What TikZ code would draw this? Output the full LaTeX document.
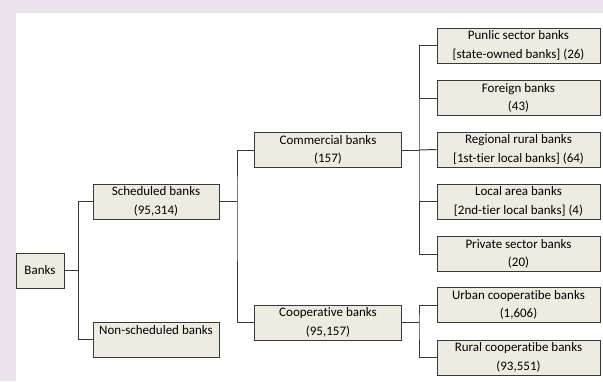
\documentclass[tikz,border=0pt]{standalone}
\usepackage{fontspec}
\setmainfont[RawFeature={-liga}]{Carlito}
\definecolor{bgpink}{HTML}{EDE3EC}
\definecolor{boxfill}{HTML}{EEECE1}
\definecolor{edge}{HTML}{383838}
\begin{document}
\begin{tikzpicture}[x=1pt,y=-1pt,
  bank/.style={draw=edge, line width=1pt, fill=boxfill, inner sep=0pt,
    minimum height=35pt, align=center,
    font=\fontsize{13}{18.5}\selectfont},
  lvlA/.style={bank, minimum width=48pt},
  lvlB/.style={bank, minimum width=126pt},
  lvlC/.style={bank, minimum width=146.5pt},
  lvlD/.style={bank, minimum width=163pt},
  link/.style={draw=edge, line width=1pt}]
\useasboundingbox (0,0) rectangle (603,381);
\fill[bgpink] (0,0) rectangle (603,381);
\fill[white] (16,13) rectangle (603,381);

\node[lvlA] (banks) at (40,270.5) {Banks};
\node[lvlB] (sched) at (156,201.5) {Scheduled banks\\(95,314)};
\node[lvlB] (nonsched) at (156,339.5) {Non-scheduled banks\\\mbox{}};
\node[lvlC] (comm) at (328,150) {Commercial banks\\(157)};
\node[lvlC] (coop) at (328,322.5) {Cooperative banks\\(95,157)};
\node[lvlD] (pub) at (518.5,45.5) {Punlic sector banks\\{}[state-owned banks] (26)};
\node[lvlD] (for) at (518.5,98) {Foreign banks\\(43)};
\node[lvlD] (rrb) at (518.5,149.5) {Regional rural banks\\{}[1st-tier local banks] (64)};
\node[lvlD] (lab) at (518.5,201.5) {Local area banks\\{}[2nd-tier local banks] (4)};
\node[lvlD] (priv) at (518.5,254) {Private sector banks\\(20)};
\node[lvlD] (urban) at (518.5,305) {Urban cooperatibe banks\\(1,606)};
\node[lvlD] (rural) at (518.5,357.5) {Rural cooperatibe banks\\(93,551)};

\coordinate (j1) at (78.5,270.5);
\coordinate (j2) at (237,201.5);
\coordinate (j3) at (419,150);
\coordinate (j4) at (419,322.5);

\draw[link] (banks.east) -- (j1);
\draw[link] (sched.west) -| (j1) |- (nonsched.west);
\draw[link] (sched.east) -- (j2);
\draw[link] (comm.west) -| (j2) |- (coop.west);
\draw[link] (comm.east) -- (j3);
\draw[link] (pub.west) -| (j3) |- (priv.west);
\draw[link] (for.west) -- (for.west -| j3);
\draw[link] (rrb.west) -- (j3);
\draw[link] (lab.west) -- (lab.west -| j3);
\draw[link] (coop.east) -- (j4);
\draw[link] (urban.west) -| (j4) |- (rural.west);
\end{tikzpicture}
\end{document}
